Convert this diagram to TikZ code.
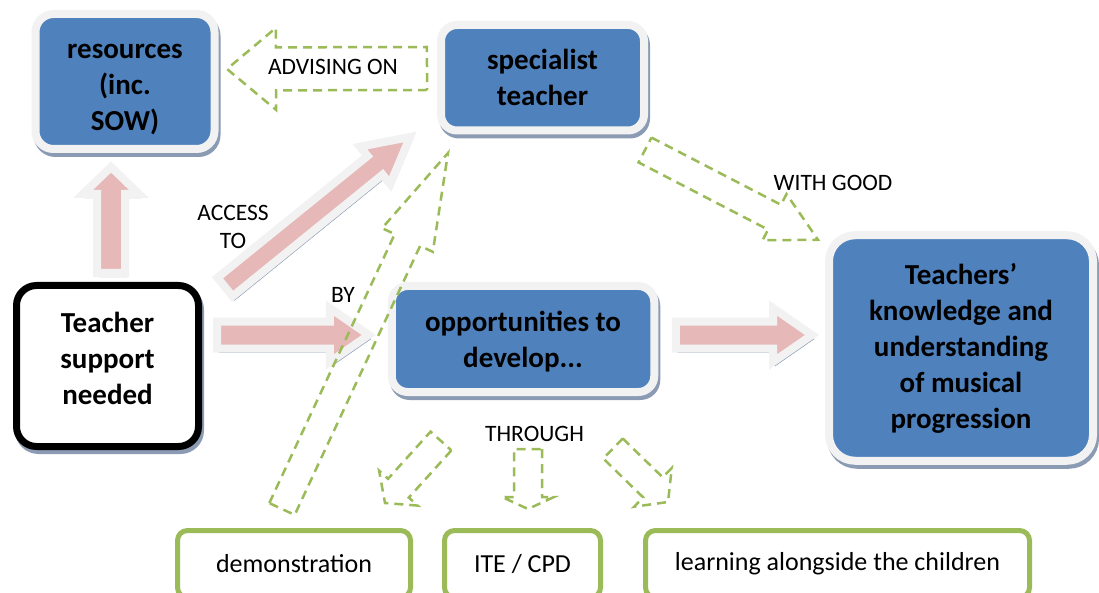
\documentclass[tikz,border=0pt]{standalone}
\usepackage{fontspec}
\setmainfont{Carlito}
\usetikzlibrary{calc,shadows}
\definecolor{boxblue}{HTML}{4F81BD}
\definecolor{rimgray}{HTML}{F2F2F2}
\definecolor{arrowpink}{HTML}{E6B9B8}
\definecolor{leafgreen}{HTML}{9BBB59}
\definecolor{shadowblue}{RGB}{139,155,180}
\tikzset{
  boxshadow/.style={drop shadow={shadow xshift=2pt,shadow yshift=-4pt,opacity=1,fill=shadowblue,draw=shadowblue}},
  bluebox/.style={draw=rimgray,line width=8pt,fill=boxblue,align=center,inner sep=0pt,outer sep=0pt,
    font=\fontsize{29}{36}\selectfont\bfseries,boxshadow},
  needbox/.style={draw=black,line width=7pt,fill=white,rounded corners=20pt,align=center,inner sep=0pt,outer sep=0pt,
    font=\fontsize{29}{36}\selectfont\bfseries,boxshadow},
  waybox/.style={draw=leafgreen,line width=5pt,rounded corners=10pt,inner sep=0pt,outer sep=0pt,
    minimum height=67pt,font=\fontsize{26}{32}\selectfont},
  linktext/.style={font=\fontsize{23.5}{28.7}\selectfont,align=center,anchor=base,inner sep=0pt},
  fatarrow/.style={fill=arrowpink,draw=rimgray,line width=8pt,boxshadow},
  hollowarrow/.style={draw=leafgreen,line width=2.5pt,dash pattern=on 9pt off 6pt}
}
% lines of a box, raised by #1
\newcommand{\boxlines}[2]{\raisebox{#1}[0pt][0pt]{\begin{tabular}{@{}c@{}}#2\end{tabular}}}
% #2 tail, #3 tip, #4 half shaft, #5 half head, #6 head length
\newcommand{\blockarrow}[6][]{%
  \coordinate (ba-base) at ($(#3)!#6!(#2)$);
  \draw[#1] ($(#2)!#4!90:(#3)$) -- ($(ba-base)!#4!90:(#3)$) -- ($(ba-base)!#5!90:(#3)$) -- (#3)
    -- ($(ba-base)!#5!-90:(#3)$) -- ($(ba-base)!#4!-90:(#3)$) -- ($(#2)!#4!-90:(#3)$) -- cycle;}
\begin{document}
\begin{tikzpicture}[x=1pt,y=-1pt]
\useasboundingbox (0,0) rectangle (1099,593);
\clip (0,0) rectangle (1099,593);

\node[bluebox,rounded corners=18pt,minimum width=179pt,minimum height=135pt] (res) at (125,81.5) {\boxlines{-11.75pt}{resources\\(inc.\\SOW)}};
\node[bluebox,rounded corners=16pt,minimum width=203pt,minimum height=105.5pt] (spec) at (542.5,77.75) {specialist\\teacher};
\node[needbox,minimum width=182pt,minimum height=161pt] (need) at (107.5,366) {\boxlines{-1.5pt}{Teacher\\support\\needed}};
\node[bluebox,rounded corners=16pt,minimum width=262.5pt,minimum height=106pt] (opp) at (523,339) {\boxlines{-9.75pt}{opportunities to\\develop...}};
\node[bluebox,rounded corners=26pt,minimum width=264pt,minimum height=225.5pt] (know) at (961,348) {Teachers'\\knowledge and\\understanding\\of musical\\progression};
\node[waybox,minimum width=233pt] (demo) at (294,564) {demonstration};
\node[waybox,minimum width=156pt] (ite) at (522.5,564) {ITE / CPD};
\node[waybox,minimum width=384pt] (learn) at (837.5,564) {learning alongside the children};

\coordinate (up-from) at ($(need.north)+(3.5,-12.5)$);
\coordinate (up-to) at ($(res.south)+(-14,18)$);
\coordinate (acc-from) at ($(need.north east)+(26.5,1.5)$);
\coordinate (acc-to) at ($(spec.south west)+(-31,6.5)$);
\coordinate (by-from) at ($(need.east)+(18.5,-31)$);
\coordinate (by-to) at ($(opp.west)+(-23,-4)$);
\coordinate (dev-from) at ($(opp.east)+(21.5,-4)$);
\coordinate (dev-to) at ($(know.west)+(-17,-13)$);
\blockarrow[fatarrow]{up-from}{up-to}{14pt}{28pt}{27pt}
\blockarrow[fatarrow]{acc-from}{acc-to}{12pt}{24pt}{45pt}
\blockarrow[fatarrow]{by-from}{by-to}{13.5pt}{27pt}{39pt}
\blockarrow[fatarrow]{dev-from}{dev-to}{13.5pt}{27pt}{39pt}

\coordinate (adv-from) at ($(spec.west)+(-14,-9.25)$);
\coordinate (adv-to) at ($(res.east)+(12.5,-12.5)$);
\coordinate (good-from) at ($(spec.south east)+(1,19.5)$);
\coordinate (good-to) at ($(know.north west)+(-11,4.5)$);
\coordinate (demo-from) at ($(demo.north)+(-12,-21.5)$);
\coordinate (demo-to) at ($(spec.south west)+(7,22.5)$);
\coordinate (thl-from) at ($(opp.south)+(-82,49)$);
\coordinate (thl-to) at ($(demo.north)+(91,-27.5)$);
\coordinate (thm-from) at ($(opp.south)+(5,57)$);
\coordinate (thm-to) at ($(ite.north)+(5.5,-21.5)$);
\coordinate (thr-from) at ($(opp.south)+(90,56.5)$);
\coordinate (thr-to) at ($(learn.north west)+(22.5,-28.5)$);
\blockarrow[hollowarrow]{adv-from}{adv-to}{21.5pt}{41pt}{49pt}
\blockarrow[hollowarrow]{good-from}{good-to}{14pt}{26pt}{49pt}
\blockarrow[hollowarrow]{demo-from}{demo-to}{14pt}{28pt}{96pt}
\blockarrow[hollowarrow]{thl-from}{thl-to}{14pt}{26pt}{20pt}
\blockarrow[hollowarrow]{thm-from}{thm-to}{14pt}{26pt}{12pt}
\blockarrow[hollowarrow]{thr-from}{thr-to}{14pt}{27pt}{21pt}

\node[linktext] (advising) at (333,75) {ADVISING ON};
\node[linktext] (access) at (233,249) {ACCESS\\TO};
\node[linktext] (by) at (343,302) {BY};
\node[linktext] (withgood) at (833,191) {WITH GOOD};
\node[linktext] (through) at (534.5,441) {THROUGH};
\end{tikzpicture}
\end{document}
